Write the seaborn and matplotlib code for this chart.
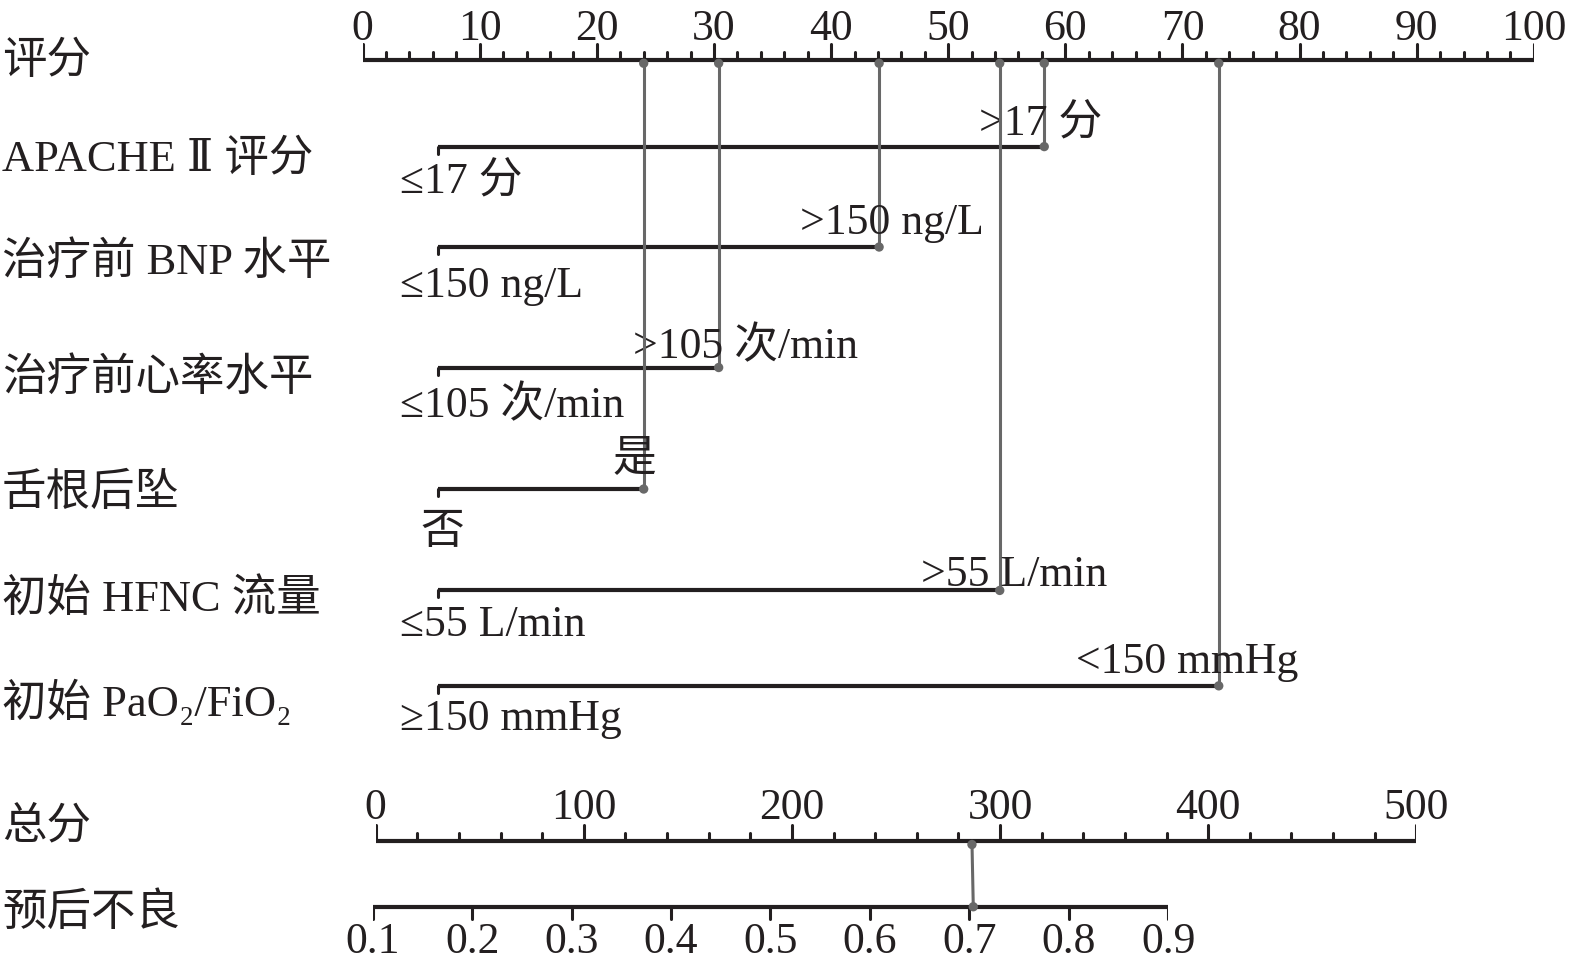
import numpy as np
import matplotlib
matplotlib.use("Agg")
import matplotlib.pyplot as plt
import seaborn as sns
from matplotlib.patches import ConnectionPatch

# 数据
row_labels = ["评分", "APACHE Ⅱ 评分", "治疗前 BNP 水平", "治疗前心率水平", "舌根后坠",
              "初始 HFNC 流量", "初始 PaO₂/FiO₂", "总分", "预后不良"]
low_labels = ["≤17 分", "≤150 ng/L", "≤105 次/min", "否", "≤55 L/min", "≥150 mmHg"]
high_labels = [">17 分", ">150 ng/L", ">105 次/min", "是", ">55 L/min", "<150 mmHg"]
low_points = [6.4, 6.4, 6.4, 6.4, 6.4, 6.4]
high_points = [58.2, 44.1, 30.4, 24.0, 54.4, 73.1]
total_point = 286.5
prob_point = 0.704
points_ticks = list(range(0, 101, 10))
total_ticks = list(range(0, 501, 100))
prob_ticks = [0.1, 0.2, 0.3, 0.4, 0.5, 0.6, 0.7, 0.8, 0.9]

# 版面（像素，按 1568x963 量取后换算）
W, H = 1575, 967
SX, SY = W / 1568, H / 963
label_y = [58, 155, 257, 372, 487, 593, 695, 820, 905]
row_y = [146, 246, 366, 487, 588, 683]
high_y = [120, 218, 342, 453, 569, 655]
high_dx = [-0.3, 1.1, 2.3, -0.8, 1.2, -2.7]
low_y = [178, 281, 400, 527, 618, 712]
low_x = [3.2, 3.2, 3.2, 4.9, 3.2, 3.2]
top_y, total_y, prob_y = 60, 838, 903
DY = 4  # 文字垂直微调

sns.set_theme(style="white")
plt.rcParams['font.family'] = ['Liberation Serif', 'DejaVu Serif', 'Noto Sans CJK SC']
BLACK = "#231f20"
GREY = "#686868"
FS = 31.5

fig = plt.figure(figsize=(W / 100, H / 100), dpi=100)


def make_ax(x0, x1, lim):
    a = fig.add_axes([x0 * SX / W, 0, (x1 - x0) * SX / W, 1])
    a.set_xlim(*lim)
    a.set_ylim(963, 0)
    a.axis("off")
    a.patch.set_alpha(0)
    return a


# 评分轴及各变量
ax = make_ax(361, 1527, (0, 100))
ax.plot([0, 100], [top_y, top_y], color=BLACK, lw=3, solid_capstyle="butt")
for v in range(0, 101, 2):
    tl = 16 if v % 10 == 0 else 8
    ax.plot([v, v], [top_y, top_y - tl], color=BLACK, lw=2.2)
for v in points_ticks:
    ax.text(v, 25 + DY, str(v), ha="center", va="center", fontsize=FS, color=BLACK)

for i in range(len(high_points)):
    y = row_y[i]
    ax.plot([low_points[i], high_points[i]], [y, y], color=BLACK, lw=3, solid_capstyle="butt")
    ax.plot([low_points[i], low_points[i]], [y, y + 7], color=BLACK, lw=2.2)
    ax.plot([high_points[i], high_points[i]], [top_y, y], color=GREY, lw=2.2, zorder=3)
    sns.scatterplot(x=[high_points[i], high_points[i]], y=[top_y + 3, y], ax=ax,
                    color=GREY, s=45, edgecolor="none", zorder=4, legend=False)
    ax.text(high_points[i] + high_dx[i], high_y[i] + DY, high_labels[i], ha="center",
            va="center", fontsize=FS, color=BLACK)
    ax.text(low_x[i], low_y[i] + DY, low_labels[i], ha="left", va="center",
            fontsize=FS, color=BLACK)

# 总分轴
ax2 = make_ax(374, 1410, (0, 500))
ax2.plot([0, 500], [total_y, total_y], color=BLACK, lw=3, solid_capstyle="butt")
for v in range(0, 501, 20):
    tl = 16 if v % 100 == 0 else 8
    ax2.plot([v, v], [total_y, total_y - tl], color=BLACK, lw=2.2)
for v in total_ticks:
    ax2.text(v, 801 + DY, str(v), ha="center", va="center", fontsize=FS, color=BLACK)

# 预后不良概率轴
ax3 = make_ax(371, 1163, (0.1, 0.9))
ax3.plot([0.1, 0.9], [prob_y, prob_y], color=BLACK, lw=3, solid_capstyle="butt")
for v in prob_ticks:
    ax3.plot([v, v], [prob_y, prob_y + 12], color=BLACK, lw=2.2)
    ax3.text(v, 934 + DY, f"{v:.1f}", ha="center", va="center", fontsize=FS, color=BLACK)

con = ConnectionPatch(xyA=(total_point, total_y), coordsA=ax2.transData,
                      xyB=(prob_point, prob_y), coordsB=ax3.transData,
                      color=GREY, lw=2.2, zorder=3)
fig.add_artist(con)
sns.scatterplot(x=[total_point], y=[total_y + 3], ax=ax2, color=GREY, s=45,
                edgecolor="none", zorder=4, legend=False)
sns.scatterplot(x=[prob_point], y=[prob_y], ax=ax3, color=GREY, s=45,
                edgecolor="none", zorder=4, legend=False)

# 左侧变量名
for lab, y in zip(row_labels, label_y):
    fig.text(2 / W, 1 - (y + DY) / 963, lab, ha="left", va="center", fontsize=32, color=BLACK)

fig.savefig("out.png", dpi=100)
